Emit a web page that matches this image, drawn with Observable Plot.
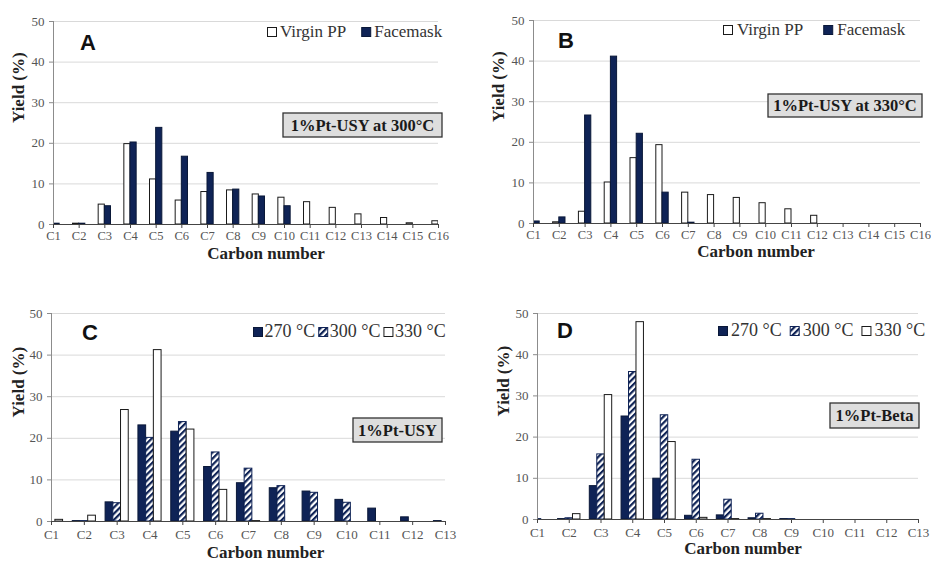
<!DOCTYPE html>
<html><head><meta charset="utf-8">
<script src="https://cdn.jsdelivr.net/npm/d3@7"></script>
<script src="https://cdn.jsdelivr.net/npm/@observablehq/plot@0.6"></script>
<style>
html,body{margin:0;padding:0;background:#fff;}
#root{position:relative;width:931px;height:565px;overflow:hidden;font-family:"Liberation Serif","Times New Roman",serif;}
.panel{position:absolute;}
#overlay{position:absolute;left:0;top:0;}
</style></head><body>
<svg width="0" height="0" style="position:absolute">
<defs>
<pattern id="hatch" patternUnits="userSpaceOnUse" width="4.4" height="4.4" patternTransform="rotate(45)">
<rect width="4.4" height="4.4" fill="#ffffff"/><rect width="2.2" height="4.4" fill="#0f2356"/>
</pattern>
</defs></svg>
<div id="root"></div>
<script>
// ---------- data ----------
const carbonAB = ["C1","C2","C3","C4","C5","C6","C7","C8","C9","C10","C11","C12","C13","C14","C15","C16"];
const carbonCD = ["C1","C2","C3","C4","C5","C6","C7","C8","C9","C10","C11","C12","C13"];
const yTicks = [0, 10, 20, 30, 40, 50];

const virginA   = [0.2, 0.2, 4.9, 19.8, 11.1, 5.9, 8.0, 8.4, 7.4, 6.6, 5.5, 4.1, 2.5, 1.6, 0.3, 0.8];
const facemaskA = [0.2, 0.2, 4.5, 20.2, 23.8, 16.7, 12.7, 8.6, 6.9, 4.5, 0, 0, 0, 0, 0, 0];

const virginB   = [0.1, 0.3, 2.9, 10.1, 16.1, 19.3, 7.6, 7.0, 6.3, 5.0, 3.5, 1.9, 0, 0, 0, 0];
const facemaskB = [0.5, 1.5, 26.6, 41.1, 22.1, 7.6, 0.2, 0, 0, 0, 0, 0, 0, 0, 0, 0];

const t270C = [0, 0.1, 4.6, 23.1, 21.6, 13.1, 9.2, 8.0, 7.2, 5.2, 3.1, 1.0, 0.1];
const t300C = [0, 0.1, 4.4, 20.1, 23.9, 16.6, 12.7, 8.5, 6.9, 4.5, 0, 0, 0];
const t330C = [0.4, 1.4, 26.8, 41.2, 22.1, 7.6, 0.1, 0, 0, 0, 0, 0, 0];

const t270D = [0.2, 0.1, 8.1, 25.0, 9.9, 0.9, 1.0, 0.3, 0.1, 0, 0, 0, 0];
const t300D = [0.1, 0.3, 15.8, 35.8, 25.3, 14.5, 4.8, 1.4, 0.1, 0, 0, 0, 0];
const t330D = [0, 1.3, 30.2, 47.9, 18.8, 0.4, 0.1, 0.1, 0, 0, 0, 0, 0];

// ---------- styles ----------
const SERIF = '"Liberation Serif", "Times New Roman", serif';
const SANS = '"Liberation Sans", Arial, sans-serif';
const NAVY = "#0f2356";
const WHITE_S = {fill: "#ffffff", stroke: "#1a1a1a"};
const NAVY_S = {fill: NAVY, stroke: "#0a1838"};
const HATCH_S = {fill: "url(#hatch)", stroke: NAVY};

const root = document.getElementById("root");

function panel(cfg) {
  const {cats, series, w, left, top, width, height, margins, xl, yl, tickFont, tickPad} = cfg;
  const n = series.length;
  const barMarks = series.map((s, k) => {
    const d = s.values.map((v, i) => ({i: i + 1, v})).filter(e => e.v > 0);
    return Plot.rectY(d, {
      x1: e => e.i + (k - n / 2) * w,
      x2: e => e.i + (k - n / 2 + 1) * w,
      y: "v",
      fill: s.style.fill, stroke: s.style.stroke, strokeWidth: 1,
      clip: true
    });
  });
  const chart = Plot.plot({
    width, height, ...margins,
    x: {type: "linear", domain: [1, cats.length]},
    y: {domain: [0, 50]},
    style: {fontFamily: SERIF, background: "transparent", overflow: "visible"},
    marks: [
      Plot.gridY(yTicks.filter(t => t > 0), {stroke: "#d9d9d9", strokeOpacity: 1}),
      ...barMarks,
      Plot.ruleX([1], {stroke: "#8c8c8c"}),
      Plot.ruleY([0], {stroke: "#444"}),
      Plot.axisY(yTicks, {tickSize: 4, tickPadding: 5, fontSize: 13, fill: "#555", stroke: "#8c8c8c", label: null, fontFamily: SERIF}),
      Plot.axisX(d3.range(1, cats.length + 1), {tickSize: 4, tickPadding: tickPad, tickFormat: d => cats[d - 1], fontSize: tickFont, fill: "#555", stroke: "#444", label: null, fontFamily: SERIF}),
      Plot.text(["Carbon number"], {text: d => d, frameAnchor: "bottom", dx: xl.dx, dy: xl.dy, fontSize: 17, fontWeight: "bold", fill: "#222", fontFamily: SERIF}),
      Plot.text(["Yield (%)"], {text: d => d, frameAnchor: "left", rotate: -90, dx: yl.dx, fontSize: 17, fontWeight: "bold", fill: "#222", fontFamily: SERIF})
    ]
  });
  const div = document.createElement("div");
  div.className = "panel";
  div.style.left = left + "px";
  div.style.top = top + "px";
  div.appendChild(chart);
  root.appendChild(div);
}

panel({cats: carbonAB, w: 0.24, left: 0, top: 0, width: 465, height: 275,
  margins: {marginLeft: 53, marginRight: 27, marginTop: 21, marginBottom: 51},
  series: [{values: virginA, style: WHITE_S}, {values: facemaskA, style: NAVY_S}],
  xl: {dx: 20, dy: 34}, yl: {dx: -35}, tickFont: 12.5, tickPad: 3});
panel({cats: carbonAB, w: 0.24, left: 465, top: 0, width: 466, height: 275,
  margins: {marginLeft: 68, marginRight: 11, marginTop: 20, marginBottom: 52},
  series: [{values: virginB, style: WHITE_S}, {values: facemaskB, style: NAVY_S}],
  xl: {dx: 29, dy: 33}, yl: {dx: -35}, tickFont: 12.5, tickPad: 3});
panel({cats: carbonCD, w: 0.235, left: 0, top: 290, width: 465, height: 275,
  margins: {marginLeft: 51, marginRight: 20, marginTop: 23, marginBottom: 44},
  series: [{values: t270C, style: NAVY_S}, {values: t300C, style: HATCH_S}, {values: t330C, style: WHITE_S}],
  xl: {dx: 17, dy: 36}, yl: {dx: -33}, tickFont: 13, tickPad: 4});
panel({cats: carbonCD, w: 0.235, left: 465, top: 290, width: 466, height: 275,
  margins: {marginLeft: 72, marginRight: 13, marginTop: 23, marginBottom: 46},
  series: [{values: t270D, style: NAVY_S}, {values: t300D, style: HATCH_S}, {values: t330D, style: WHITE_S}],
  xl: {dx: 15, dy: 34}, yl: {dx: -34}, tickFont: 13, tickPad: 4});

// ---------- overlay: panel letters, legends, annotation boxes ----------
const ov = d3.select(root).append("svg").attr("id", "overlay").attr("width", 931).attr("height", 565)
  .attr("font-family", SERIF);

[["A", 80, 50], ["B", 558, 48], ["C", 82, 340], ["D", 557, 338]].forEach(([t, x, y]) => {
  ov.append("text").attr("x", x).attr("y", y).text(t)
    .attr("font-family", SANS).attr("font-weight", "bold")
    .attr("font-size", 22).attr("fill", "#111");
});

function legend(items, x0, baseline, fs, s, g1, g2) {
  let x = x0;
  items.forEach(([label, st]) => {
    ov.append("rect").attr("x", x + 0.5).attr("y", baseline - s + 0.5).attr("width", s - 1).attr("height", s - 1)
      .attr("fill", st.fill).attr("stroke", st.stroke).attr("stroke-width", 1);
    const t = ov.append("text").attr("x", x + s + g1).attr("y", baseline).text(label)
      .attr("font-family", SERIF).attr("font-size", fs).attr("fill", "#333");
    x += s + g1 + t.node().getComputedTextLength() + g2;
  });
}
legend([["Virgin PP", WHITE_S], ["Facemask", NAVY_S]], 267, 37, 17, 10, 3, 15);
legend([["Virgin PP", WHITE_S], ["Facemask", NAVY_S]], 723, 35, 17, 10, 4, 20);
legend([["270 °C", NAVY_S], ["300 °C", HATCH_S], ["330 °C", WHITE_S]], 253, 337, 18, 10, 1.5, 3);
legend([["270 °C", NAVY_S], ["300 °C", HATCH_S], ["330 °C", WHITE_S]], 718, 336, 18, 10, 3, 8);

function box(label, x1, y1, x2, y2, baseline) {
  ov.append("rect").attr("x", x1).attr("y", y1).attr("width", x2 - x1).attr("height", y2 - y1)
    .attr("fill", "#dedede").attr("stroke", "#333").attr("stroke-width", 1.3);
  ov.append("text").attr("x", (x1 + x2) / 2).attr("y", baseline).attr("text-anchor", "middle")
    .attr("font-family", SERIF).attr("font-weight", "bold").attr("font-size", 16.5).attr("fill", "#1a1a1a").text(label);
}
box("1%Pt-USY at 300°C", 283, 113, 442, 137, 130.5);
box("1%Pt-USY at 330°C", 768, 94, 922, 117, 111);
box("1%Pt-USY", 353, 418, 442, 442, 435.5);
box("1%Pt-Beta", 830, 403, 919, 428, 421);
</script>
</body></html>
